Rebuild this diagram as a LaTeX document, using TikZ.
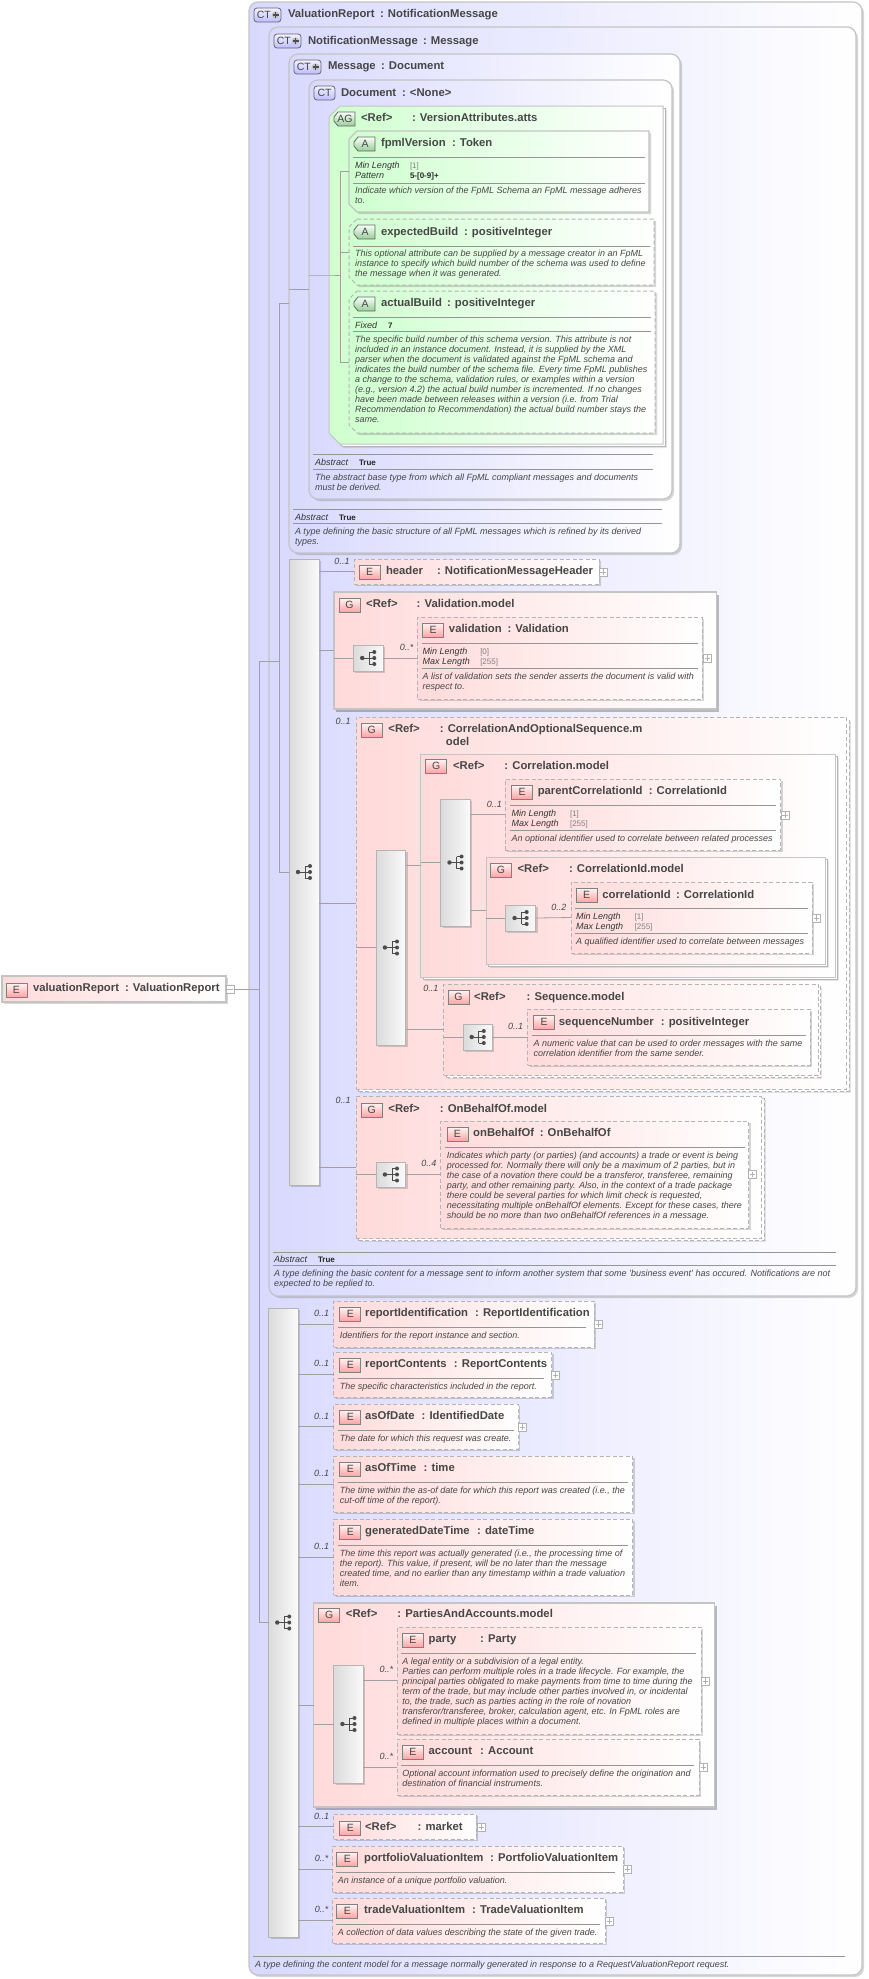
\documentclass[tikz,border=0pt]{standalone}
\usepackage{fontspec}
\setmainfont{Liberation Sans}
\usetikzlibrary{shadows}
\definecolor{ctL}{HTML}{D9D9FF}
\definecolor{grL}{HTML}{FFDADA}
\definecolor{agL}{HTML}{CFFFCF}
\definecolor{bord}{HTML}{C4C4C4}
\definecolor{bordD}{HTML}{B4B4B4}
\definecolor{lnk}{HTML}{A0A0A0}
\definecolor{ink}{HTML}{464646}
\definecolor{rul}{HTML}{959595}
\newcount\tnum
\def\kx{1}
\tikzset{
 boxbase/.style={anchor=north west,inner sep=0pt,outer sep=0pt,rectangle},
 softshadow/.style={drop shadow={shadow xshift=2pt,shadow yshift=-2pt,opacity=.16,fill=black}},
 stackdash/.style={drop shadow={shadow xshift=4pt,shadow yshift=-4pt,opacity=.10,fill=black},
   copy shadow={shadow xshift=2.5pt,shadow yshift=-2.5pt,draw=bordD,line width=.9pt,fill=white,dash pattern=on 4pt off 2.5pt}},
 stacksolid/.style={drop shadow={shadow xshift=4pt,shadow yshift=-4pt,opacity=.10,fill=black},
   copy shadow={shadow xshift=2.5pt,shadow yshift=-2.5pt,draw=bordD,line width=.9pt,fill=white}},
 ctbox/.style={rounded corners=9pt,draw=bord,line width=1.2pt,left color=ctL,right color=white,softshadow},
 grpsolid/.style={draw=bord,line width=1.3pt,left color=grL,right color=white,
   drop shadow={shadow xshift=2.5pt,shadow yshift=-2.5pt,opacity=.25,fill=black}},
 grpstack/.style={draw=bord,line width=1pt,left color=grL,right color=white,stacksolid},
 grpdash/.style={draw=bordD,line width=1pt,dash pattern=on 4pt off 2.5pt,left color=grL,right color=white,stackdash},
 elem/.style={draw=bordD,line width=1pt,dash pattern=on 4pt off 2.5pt,left color=grL,right color=white,softshadow},
 elemsolid/.style={draw=bord,line width=1.2pt,left color=grL,right color=white,softshadow},
 agbox/.style={draw=bord,line width=1pt,left color=agL,right color=white,stacksolid},
 attr/.style={draw=bord,line width=1.2pt,left color=agL,right color=white,softshadow},
 attrdash/.style={draw=bordD,line width=1pt,dash pattern=on 4pt off 2.5pt,left color=agL,right color=white,softshadow},
 seqbar/.style={draw=bordD,line width=1pt,left color=black!14,right color=black!2,softshadow},
 iconbase/.style={anchor=north west,inner sep=0pt,outer sep=0pt,minimum height=14pt,text=ink,font=\fontsize{10.5}{10.5}\selectfont},
 iconE/.style={iconbase,rectangle,minimum width=21pt,draw=black!50,line width=.8pt,top color=red!4,bottom color=red!36},
 iconAp/.style={draw=black!60,line width=.8pt,top color=green!3,bottom color=green!50!black!40!white},
 iconAt/.style={iconbase,rectangle,minimum width=21pt},
 iconC/.style={iconbase,rectangle,rounded corners=3pt,draw=black!60,line width=.8pt,top color=blue!5,bottom color=blue!26},
 conn/.style={draw=lnk,line width=.8pt},
 rulerow/.style={draw=rul,line width=.9pt},
 ttl/.style={anchor=base west,inner sep=0pt,outer sep=0pt,text=ink,font=\fontsize{11.3}{13}\selectfont\bfseries},
 dsctxt/.style={anchor=north west,inner sep=0pt,outer sep=0pt,align=left,text=ink,font=\fontsize{9}{10.1}\selectfont\itshape},
 factk/.style={anchor=base west,inner sep=0pt,outer sep=0pt,text=black!80,font=\fontsize{9}{10}\selectfont\itshape},
 factv/.style={anchor=base west,inner sep=0pt,outer sep=0pt,text=black!50,font=\fontsize{8}{10}\selectfont},
 factb/.style={anchor=base west,inner sep=0pt,outer sep=0pt,text=black!85,font=\fontsize{8}{10}\selectfont\bfseries},
 cardtxt/.style={anchor=center,inner sep=0pt,outer sep=0pt,text=ink,font=\fontsize{9}{10}\selectfont\itshape},
 btnbox/.style={anchor=center,rectangle,inner sep=0pt,outer sep=0pt,minimum size=8pt,draw=black!30,line width=.7pt,fill=white},
}
\newcommand{\bx}[6][]{\pgfmathsetmacro\bw{(#5-#3)*\kx}\pgfmathsetmacro\bh{#6-#4}%
 \node[boxbase,#1,minimum width=\bw pt,minimum height=\bh pt] (#2) at (#3,#4) {};}
% chamfered box: shape drawn as a path, named node carries the anchors; #7 = chamfer
\newcommand{\bxc}[7][]{\path[#1] (#3+#7,#4) -- (#5,#4) -- (#5,#6) -- (#3+#7,#6) -- (#3,#6-#7) -- (#3,#4+#7) -- cycle;
 \bx{#2}{#3}{#4}{#5}{#6}}
\newcommand{\nt}{\global\advance\tnum by 1 }
\newcommand{\ttlx}[5]{\nt\node[ttl] (t\the\tnum) at (#1,#3+4) {#4};\nt\node[ttl] (t\the\tnum) at (#2,#3+4) {#5};}
\newcommand{\dsc}[3]{\nt\node[dsctxt] (t\the\tnum) at (#1,#2-3.4) {#3};}
\newcommand{\fct}[6][factv]{\nt\node[factk] (t\the\tnum) at (#2,#4+3.2) {#5};\nt\node[#1] (t\the\tnum) at (#3,#4+3) {#6};}
\newcommand{\card}[3]{\nt\node[cardtxt] (t\the\tnum) at (#1,#2) {#3};}
\newcommand{\rl}[3]{\draw[rulerow] (#1,#3) -- (#2,#3);}
\newcommand{\icE}[3]{\nt\node[iconE] (t\the\tnum) at (#1,#2) {#3};}
\newcommand{\icA}[3]{\path[iconAp] (#1+4,#2) -- (#1+21,#2) -- (#1+21,#2+14) -- (#1+4,#2+14) -- (#1,#2+9) -- (#1,#2+5) -- cycle;
 \nt\node[iconAt] (t\the\tnum) at (#1+.5,#2) {#3};}
\newcommand{\icC}[3]{\nt\node[iconC,minimum width=21pt] (t\the\tnum) at (#1,#2) {#3};}
\newcommand{\icCp}[2]{\nt\node[iconC,minimum width=27pt,text width=25pt,align=left] (t\the\tnum) at (#1,#2) {\,CT};
 \begin{scope}[shift={(t\the\tnum.east)}]
 \fill[black!25] (-5.5,0) circle[radius=3.6pt];
 \draw[black!70,line width=1.4pt] (-8.5,0)--(-2.5,0) (-5.5,-3)--(-5.5,3);
 \end{scope}}
\newcommand{\btnp}[3]{\node[btnbox] (#1) at (#2,#3) {};\draw[black!30,line width=.7pt] ([xshift=-2.6pt]#1.center)--([xshift=2.6pt]#1.center) ([yshift=-2.6pt]#1.center)--([yshift=2.6pt]#1.center);}
\newcommand{\btnm}[3]{\node[btnbox] (#1) at (#2,#3) {};\draw[black!30,line width=.7pt] ([xshift=-2.6pt]#1.center)--([xshift=2.6pt]#1.center);}
\newcommand{\seqg}[1]{\begin{scope}[shift={(#1.center)}]
 \draw[black!70,line width=.9pt] (-6,0)--(6,0) (1,-6)--(1,6) (1,-6)--(6,-6) (1,6)--(6,6);
 \fill[black!70] (-6,0) circle[radius=2.2pt] (6,-6) circle[radius=2pt] (6,0) circle[radius=2pt] (6,6) circle[radius=2pt];
 \end{scope}}
\begin{document}
\begin{tikzpicture}[x=1pt,y=-1pt]
\fill[white] (0,0) rectangle (868,1979);
\useasboundingbox (0,0) rectangle (868,1979);
% ---- complex types
\bx[ctbox]{cVR}{249}{2}{862}{1975}
\icCp{254}{8}
\ttlx{288}{380}{13}{ValuationReport}{: NotificationMessage}
\bx[ctbox]{cNM}{269}{27}{856}{1296}
\icCp{274}{34}
\ttlx{308}{423}{40}{NotificationMessage}{: Message}
\bx[ctbox]{cM}{289}{54}{680}{553}
\icCp{294}{60}
\ttlx{328}{381}{65}{Message}{: Document}
\bx[ctbox]{cD}{309}{80}{672}{499}
\icC{314}{86}{CT}
\ttlx{341}{402}{92}{Document}{: <None>}
% ---- attribute group
\bxc[agbox]{ag}{329}{106}{663}{444}{11}
\icA{334}{112}{AG}
\ttlx{361}{412}{117}{<Ref>}{: VersionAttributes.atts}
\bxc[attr]{fpml}{349}{131}{649}{212}{8}
\icA{354}{137}{A}
\ttlx{381}{452}{142}{fpmlVersion}{: Token}
\rl{353}{645}{157}
\fct{355}{410}{165}{Min Length}{[1]}
\fct[factb]{355}{410}{175}{Pattern}{5-[0-9]+}
\rl{353}{645}{183}
\dsc{355}{190}{Indicate which version of the FpML Schema an FpML message adheres\\to.}
\bxc[attrdash]{expb}{349}{219}{654}{285}{8}
\icA{354}{225}{A}
\ttlx{381}{464}{231}{expectedBuild}{: positiveInteger}
\rl{353}{650}{246}
\dsc{355}{253}{This optional attribute can be supplied by a message creator in an FpML\\instance to specify which build number of the schema was used to define\\the message when it was generated.}
\bxc[attrdash]{actb}{349}{291}{655}{433}{8}
\icA{354}{297}{A}
\ttlx{381}{447}{302}{actualBuild}{: positiveInteger}
\rl{353}{651}{317}
\fct[factb]{355}{388}{325}{Fixed}{7}
\rl{353}{651}{331}
\dsc{355}{339}{The specific build number of this schema version. This attribute is not\\included in an instance document. Instead, it is supplied by the XML\\parser when the document is validated against the FpML schema and\\indicates the build number of the schema file. Every time FpML publishes\\a change to the schema, validation rules, or examples within a version\\(e.g., version 4.2) the actual build number is incremented. If no changes\\have been made between releases within a version (i.e. from Trial\\Recommendation to Recommendation) the actual build number stays the\\same.}
% ---- abstracts
\rl{313}{653}{454}
\fct[factb]{315}{359}{462}{Abstract}{True}
\rl{313}{653}{469}
\dsc{315}{477}{The abstract base type from which all FpML compliant messages and documents\\must be derived.}
\rl{293}{662}{509}
\fct[factb]{295}{339}{517}{Abstract}{True}
\rl{293}{662}{523}
\dsc{295}{531}{A type defining the basic structure of all FpML messages which is refined by its derived\\types.}
% ---- first sequence
\bx[seqbar]{bar1}{289}{559}{319}{1185}
\seqg{bar1}
\bx[elem]{hdr}{354}{559}{599}{584}
\icE{359}{565}{E}
\ttlx{386}{437}{570}{header}{: NotificationMessageHeader}
\btnp{bhdr}{603}{572}
\card{342}{561}{0..1}
\begin{scope}[x=1.009pt,xshift=-3.06pt]
\def\kx{1.009}
% validation model
\bx[grpsolid]{gVal}{334}{592}{713}{709}
\icE{339}{598}{G}
\ttlx{366}{416}{603}{<Ref>}{: Validation.model}
\bx[seqbar]{sq1}{353}{645}{383}{671}
\seqg{sq1}
\bx[elem]{val}{417}{617}{699}{699}
\icE{422}{623}{E}
\ttlx{448}{506}{628}{validation}{: Validation}
\rl{421}{695}{643}
\fct{422}{479}{651}{Min Length}{[0]}
\fct{422}{479}{661}{Max Length}{[255]}
\rl{421}{695}{668}
\dsc{422}{676}{A list of validation sets the sender asserts the document is valid with\\respect to.}
\btnp{bval}{704}{658}
\card{406}{647}{0..*}
% correlation and optional sequence
\bx[grpdash]{gCAO}{356}{717}{842}{1089}
\icE{361}{723}{G}
\ttlx{388}{439}{728}{<Ref>}{: CorrelationAndOptionalSequence.m}
\nt\node[ttl] (t\the\tnum) at (445,745) {odel};
\card{343}{721}{0..1}
\bx[seqbar]{bar3}{376}{850}{405}{1045}
\seqg{bar3}
\bx[grpstack]{gCor}{420}{754}{831}{977}
\icE{425}{759}{G}
\ttlx{452}{503}{765}{<Ref>}{: Correlation.model}
\bx[seqbar]{bar4}{440}{799}{469}{926}
\seqg{bar4}
\bx[elem]{pcid}{504}{779}{777}{850}
\icE{510}{785}{E}
\ttlx{536}{646}{790}{parentCorrelationId}{: CorrelationId}
\rl{508}{772}{805}
\fct{510}{568}{813}{Min Length}{[1]}
\fct{510}{568}{823}{Max Length}{[255]}
\rl{508}{772}{830}
\dsc{510}{838}{An optional identifier used to correlate between related processes}
\btnp{bpcid}{781}{815}
\card{493}{804}{0..1}
\bx[grpstack]{gCid}{485}{857}{821}{964}
\icE{489}{863}{G}
\ttlx{516}{567}{868}{<Ref>}{: CorrelationId.model}
\bx[seqbar]{sq2}{504}{905}{534}{931}
\seqg{sq2}
\bx[elem]{cid}{569}{882}{808}{953}
\icE{574}{888}{E}
\ttlx{600}{673}{894}{correlationId}{: CorrelationId}
\rl{573}{804}{908}
\fct{574}{632}{916}{Min Length}{[1]}
\fct{574}{632}{926}{Max Length}{[255]}
\rl{573}{804}{933}
\dsc{574}{941}{A qualified identifier used to correlate between messages}
\btnp{bcid}{812}{918}
\card{557}{907}{0..2}
\bx[grpdash]{gSeq}{443}{984}{814}{1075}
\icE{447}{990}{G}
\ttlx{473}{525}{996}{<Ref>}{: Sequence.model}
\bx[seqbar]{sq3}{462}{1024}{491}{1050}
\seqg{sq3}
\bx[elem]{snum}{526}{1009}{806}{1065}
\icE{532}{1015}{E}
\ttlx{557}{658}{1021}{sequenceNumber}{: positiveInteger}
\rl{530}{802}{1035}
\dsc{532}{1043}{A numeric value that can be used to order messages with the same\\correlation identifier from the same sender.}
\card{430}{988}{0..1}
\card{514}{1026}{0..1}
% on behalf of
\bx[grpdash]{gOBO}{356}{1096}{758}{1238}
\icE{361}{1103}{G}
\ttlx{388}{439}{1108}{<Ref>}{: OnBehalfOf.model}
\bx[seqbar]{sq4}{376}{1162}{405}{1187}
\seqg{sq4}
\bx[elem]{obo}{440}{1121}{745}{1228}
\icE{446}{1127}{E}
\ttlx{472}{538}{1132}{onBehalfOf}{: OnBehalfOf}
\rl{444}{741}{1147}
\dsc{446}{1155}{Indicates which party (or parties) (and accounts) a trade or event is being\\processed for. Normally there will only be a maximum of 2 parties, but in\\the case of a novation there could be a transferor, transferee, remaining\\party, and other remaining party. Also, in the context of a trade package\\there could be several parties for which limit check is requested,\\necessitating multiple onBehalfOf elements. Except for these cases, there\\should be no more than two onBehalfOf references in a message.}
\btnp{bobo}{749}{1174.5}
\card{343}{1100}{0..1}
\card{428}{1163}{0..4}
\end{scope}
% notification abstract
\rl{273}{836}{1252}
\fct[factb]{274}{318}{1259}{Abstract}{True}
\rl{273}{836}{1265}
\dsc{274}{1273}{A type defining the basic content for a message sent to inform another system that some 'business event' has occured. Notifications are not\\expected to be replied to.}
% ---- second sequence
\bx[seqbar]{bar2}{268.5}{1308}{298}{1937}
\seqg{bar2}
\begin{scope}[x=1.009pt,xshift=-2.16pt]
\def\kx{1.009}
\bx[elem]{rid}{333}{1301}{591}{1347}
\icE{339}{1307}{E}
\ttlx{364}{473}{1312}{reportIdentification}{: ReportIdentification}
\rl{337}{583}{1327}
\dsc{339}{1335}{Identifiers for the report instance and section.}
\btnp{brid}{595}{1324}
\card{321}{1313}{0..1}
\bx[elem]{rcn}{333}{1352}{549}{1397}
\icE{339}{1358}{E}
\ttlx{364}{452}{1363}{reportContents}{: ReportContents}
\rl{337}{541}{1378}
\dsc{339}{1386}{The specific characteristics included in the report.}
\btnp{brcn}{553}{1375}
\card{321}{1363}{0..1}
\bx[elem]{aod}{333}{1404}{516}{1449}
\icE{339}{1410}{E}
\ttlx{364}{420}{1415}{asOfDate}{: IdentifiedDate}
\rl{337}{512}{1430}
\dsc{339}{1438}{The date for which this request was create.}
\btnp{baod}{520}{1427}
\card{321}{1416}{0..1}
\bx[elem]{aot}{333}{1456}{629}{1512}
\icE{339}{1462}{E}
\ttlx{364}{422}{1467}{asOfTime}{: time}
\rl{337}{625}{1482}
\dsc{339}{1490}{The time within the as-of date for which this report was created (i.e., the\\cut-off time of the report).}
\card{321}{1473}{0..1}
\bx[elem]{gdt}{333}{1519}{629}{1595}
\icE{339}{1525}{E}
\ttlx{364}{475}{1530}{generatedDateTime}{: dateTime}
\rl{337}{625}{1545}
\dsc{339}{1553}{The time this report was actually generated (i.e., the processing time of\\the report). This value, if present, will be no later than the message\\created time, and no earlier than any timestamp within a trade valuation\\item.}
\card{321}{1546}{0..1}
% parties and accounts
\bx[grpsolid]{gPA}{313}{1603}{710}{1807}
\icE{318}{1608}{G}
\ttlx{345}{396}{1613}{<Ref>}{: PartiesAndAccounts.model}
\bx[seqbar]{bar5}{333}{1665}{362}{1783}
\seqg{bar5}
\bx[elem]{pty}{396}{1627}{697}{1734}
\icE{401}{1633}{E}
\ttlx{427}{478}{1638}{party}{: Party}
\rl{400}{692}{1653}
\dsc{401}{1661}{A legal entity or a subdivision of a legal entity.\\Parties can perform multiple roles in a trade lifecycle. For example, the\\principal parties obligated to make payments from time to time during the\\term of the trade, but may include other parties involved in, or incidental\\to, the trade, such as parties acting in the role of novation\\transferor/transferee, broker, calculation agent, etc. In FpML roles are\\defined in multiple places within a document.}
\btnp{bpty}{701}{1681}
\card{385}{1669}{0..*}
\bx[elem]{acc}{396}{1739}{695}{1795}
\icE{401}{1745}{E}
\ttlx{427}{478}{1750}{account}{: Account}
\rl{400}{690}{1765}
\dsc{401}{1773}{Optional account information used to precisely define the origination and\\destination of financial instruments.}
\btnp{bacc}{699}{1767}
\card{385}{1756}{0..*}
% trailing elements
\bx[elem]{mkt}{333}{1814}{474}{1839}
\icE{339}{1821}{E}
\ttlx{364}{416}{1826}{<Ref>}{: market}
\btnp{bmkt}{479}{1827}
\card{321}{1816}{0..1}
\bx[elem]{pvi}{332}{1846}{620}{1892}
\icE{336}{1852}{E}
\ttlx{363}{488}{1857}{portfolioValuationItem}{: PortfolioValuationItem}
\rl{335}{612}{1872}
\dsc{337}{1880}{An instance of a unique portfolio valuation.}
\btnp{bpvi}{624}{1869}
\card{321}{1858}{0..*}
\bx[elem]{tvi}{332}{1898}{602}{1943}
\icE{336}{1904}{E}
\ttlx{363}{470}{1909}{tradeValuationItem}{: TradeValuationItem}
\rl{335}{597}{1924}
\dsc{337}{1932}{A collection of data values describing the state of the given trade.}
\btnp{btvi}{606}{1921}
\card{321}{1909}{0..*}
\end{scope}
\rl{253}{845}{1956}
\dsc{255}{1964}{A type defining the content model for a message normally generated in response to a RequestValuationReport request.}
% ---- root element
\bx[elemsolid]{root}{2}{976}{226}{1002}
\icE{6}{983}{E}
\ttlx{33}{125}{987}{valuationReport}{: ValuationReport}
\btnm{broot}{230}{989}
% ---- connectors
\coordinate (v1) at (259.5,0);
\coordinate (v2) at (279.5,0);
\coordinate (v3) at (340,0);
\draw[conn] (broot.east) -- (broot.east -| v1);
\draw[conn] (cNM.west) -- (cNM.west -| v1) -- (bar2.west -| v1) -- (bar2.west);
\draw[conn] (cM.west) -- (cM.west -| v2) -- (bar1.west -| v2) -- (bar1.west);
\draw[conn] (cNM.west) -- (cNM.west -| v2);
\draw[conn] (cM.west |- cD.west) -- (cD.west);
\draw[conn] (cD.west |- ag.west) -- (ag.west) -- (ag.west -| v3);
\draw[conn] (fpml.west) -- (fpml.west -| v3) -- (actb.west -| v3) -- (actb.west);
\draw[conn] (expb.west -| v3) -- (expb.west);
\draw[conn] (bar1.east |- hdr.west) -- (hdr.west);
\draw[conn] (bar1.east |- gVal.west) -- (gVal.west);
\draw[conn] (bar1.east |- gCAO.west) -- (gCAO.west);
\draw[conn] (bar1.east |- gOBO.west) -- (gOBO.west);
\draw[conn] (gVal.west |- sq1.west) -- (sq1.west);
\draw[conn] (sq1.east) -- (val.west);
\draw[conn] (gCAO.west |- bar3.west) -- (bar3.west);
\draw[conn] (bar3.east |- gCor.west) -- (gCor.west);
\draw[conn] (bar3.east |- gSeq.west) -- (gSeq.west);
\draw[conn] (gCor.west |- bar4.west) -- (bar4.west);
\draw[conn] (bar4.east |- pcid.west) -- (pcid.west);
\draw[conn] (bar4.east |- gCid.west) -- (gCid.west);
\draw[conn] (gCid.west |- sq2.west) -- (sq2.west);
\draw[conn] (sq2.east) -- (cid.west);
\draw[conn] (gSeq.west |- sq3.west) -- (sq3.west);
\draw[conn] (sq3.east) -- (snum.west);
\draw[conn] (gOBO.west |- sq4.west) -- (sq4.west);
\draw[conn] (sq4.east) -- (obo.west);
\draw[conn] (bar2.east |- rid.west) -- (rid.west);
\draw[conn] (bar2.east |- rcn.west) -- (rcn.west);
\draw[conn] (bar2.east |- aod.west) -- (aod.west);
\draw[conn] (bar2.east |- aot.west) -- (aot.west);
\draw[conn] (bar2.east |- gdt.west) -- (gdt.west);
\draw[conn] (bar2.east |- gPA.west) -- (gPA.west);
\draw[conn] (bar2.east |- mkt.west) -- (mkt.west);
\draw[conn] (bar2.east |- pvi.west) -- (pvi.west);
\draw[conn] (bar2.east |- tvi.west) -- (tvi.west);
\draw[conn] (gPA.west |- bar5.west) -- (bar5.west);
\draw[conn] (bar5.east |- pty.west) -- (pty.west);
\draw[conn] (bar5.east |- acc.west) -- (acc.west);
\end{tikzpicture}
\end{document}
